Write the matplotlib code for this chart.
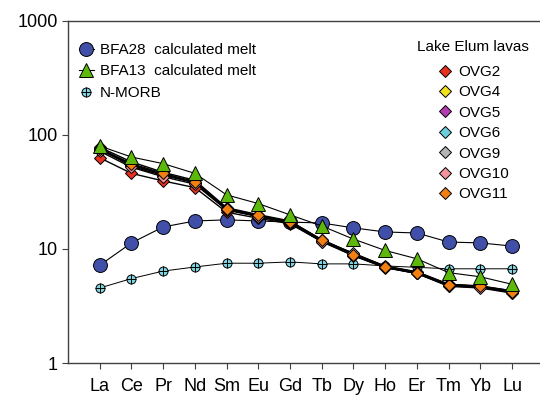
import numpy as np
import matplotlib.pyplot as plt

plt.rcParams['font.family'] = ['Liberation Sans', 'DejaVu Sans']

ree = ['La', 'Ce', 'Pr', 'Nd', 'Sm', 'Eu', 'Gd', 'Tb', 'Dy', 'Ho', 'Er', 'Tm', 'Yb', 'Lu']

bfa28 = [7.2, 11.3, 15.6, 17.6, 18.0, 17.6, 17.2, 16.9, 15.3, 14.1, 13.8, 11.5, 11.3, 10.6]
bfa13 = [80, 64, 56, 46, 29.8, 25.0, 19.9, 15.9, 12.2, 9.7, 8.2, 6.2, 5.7, 4.9]
nmorb = [4.55, 5.5, 6.4, 6.95, 7.5, 7.5, 7.7, 7.4, 7.4, 7.1, 6.9, 6.7, 6.7, 6.7]

ovg2 = [63, 46, 39.5, 34.5, 21.0, 18.6, 16.6, 11.6, 8.9, 6.9, 6.1, 4.8, 4.6, 4.2]
ovg4 = [78, 58, 47, 40, 23.0, 20.0, 17.6, 12.0, 9.0, 7.0, 6.3, 4.9, 4.7, 4.3]
ovg5 = [75, 55, 45, 38, 22.0, 19.4, 17.0, 11.7, 8.8, 6.9, 6.1, 4.75, 4.6, 4.15]
ovg6 = [77, 53, 44, 38.5, 22.8, 19.7, 17.4, 12.1, 9.1, 7.1, 6.3, 4.9, 4.75, 4.3]
ovg9 = [74, 54, 45, 38, 22.3, 19.3, 17.1, 11.8, 9.2, 7.0, 6.2, 4.85, 4.7, 4.25]
ovg10 = [72, 52, 43, 37, 22.0, 19.2, 16.9, 11.6, 8.7, 6.85, 6.1, 4.7, 4.55, 4.1]
ovg11 = [76, 56, 46, 39, 22.5, 19.8, 17.2, 11.9, 8.8, 6.9, 6.2, 4.8, 4.7, 4.2]

ovg_names = ['OVG2', 'OVG4', 'OVG5', 'OVG6', 'OVG9', 'OVG10', 'OVG11']
ovg_data = [ovg2, ovg4, ovg5, ovg6, ovg9, ovg10, ovg11]
ovg_colors = ['#E8321E', '#F2E21C', '#B43CB4', '#6CCEDC', '#B4B4B4', '#F4949C', '#F27F12']

x = np.arange(1, len(ree) + 1)

fig = plt.figure(figsize=(5.4, 3.96), dpi=100)
ax = fig.add_axes([0.126, 0.0833, 0.874, 0.864])

# N-MORB: circle with a cross
ax.plot(x, nmorb, color='black', lw=0.7, zorder=1)
h_nm1, = ax.plot(x, nmorb, ls='none', marker='o', ms=6.5, mfc='#7FD4E0', mec='black', mew=0.7, zorder=2)
h_nm2, = ax.plot(x, nmorb, ls='none', marker='+', ms=6.5, mec='black', mew=0.7, zorder=2)

h28, = ax.plot(x, bfa28, color='black', lw=0.8, marker='o', ms=10, mfc='#4050A8',
               mec='black', mew=0.7, zorder=3)

ovg_handles = []
for i, (name, vals, c) in enumerate(zip(ovg_names, ovg_data, ovg_colors)):
    ax.plot(x, vals, color='black', lw=1.0, zorder=4)
    h, = ax.plot(x, vals, ls='none', marker='D', ms=6, mfc=c, mec='black', mew=0.7,
                 zorder=5 + i * 0.01)
    ovg_handles.append(h)

h13, = ax.plot(x, bfa13, color='black', lw=0.8, marker='^', ms=10, mfc='#5CB80A',
               mec='black', mew=0.7, zorder=6)

ax.set_yscale('log')
ax.set_ylim(1, 1000)
ax.set_xlim(0, 14.88)
ax.set_yticks([1, 10, 100, 1000])
ax.set_yticklabels(['1', '10', '100', '1000'])
ax.yaxis.set_minor_locator(plt.NullLocator())
ax.set_xticks(x)
ax.set_xticklabels(ree)
ax.tick_params(labelsize=13, direction='out', length=4, width=0.8, color='#404040')
ax.tick_params(axis='x', pad=7)
ax.spines['right'].set_visible(False)
for s in ['top', 'left', 'bottom']:
    ax.spines[s].set_linewidth(1.0)
    ax.spines[s].set_color('#404040')

leg1 = ax.legend([h28, h13, (h_nm1, h_nm2)],
                 ['BFA28  calculated melt', 'BFA13  calculated melt', 'N-MORB'],
                 loc='upper left', bbox_to_anchor=(0.0, 0.967), frameon=False,
                 fontsize=11, handlelength=1.0, handletextpad=0.4, labelspacing=0.5,
                 borderaxespad=0.3)
ax.add_artist(leg1)

leg2 = ax.legend(ovg_handles, ovg_names, title='Lake Elum lavas', loc='upper right',
                 bbox_to_anchor=(1.0, 0.976), frameon=False, fontsize=11,
                 title_fontsize=11, handlelength=1.0, handletextpad=0.4,
                 labelspacing=0.42, borderaxespad=0.3)
leg2._legend_box.sep = 8

fig.savefig('out.png', dpi=100)
